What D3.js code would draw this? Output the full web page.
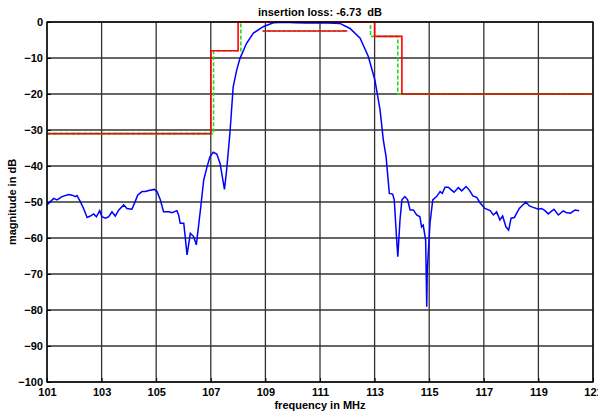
<!DOCTYPE html>
<html>
<head>
<meta charset="utf-8">
<script src="https://cdn.jsdelivr.net/npm/d3@7"></script>
<style>
body { margin: 0; background: #fff; }
text { font-family: "Liberation Sans", Arial, sans-serif; font-weight: bold; }
</style>
</head>
<body>
<div id="caja"></div>
<script>
// frecuencias y magnitudes
var freq = [101,101.12,101.25,101.37,101.55,101.79,101.92,102.04,102.1,102.22,102.34,102.47,102.59,102.71,102.81,102.93,103.01,103.14,103.26,103.38,103.5,103.63,103.81,103.93,104.11,104.23,104.32,104.48,104.6,104.73,104.93,105.03,105.15,105.27,105.46,105.58,105.76,105.82,105.88,106.01,106.13,106.25,106.37,106.47,106.62,106.74,106.85,106.97,107.09,107.22,107.34,107.5,107.58,107.7,107.82,107.95,108.07,108.31,108.56,108.92,109.29,109.7,110.1,110.5,110.9,111.3,111.73,112.1,112.47,112.77,113.01,113.2,113.32,113.42,113.54,113.66,113.72,113.81,113.85,113.93,114,114.11,114.21,114.3,114.42,114.54,114.66,114.72,114.78,114.87,114.91,114.93,115.03,115.13,115.27,115.4,115.48,115.58,115.7,115.82,115.91,116.07,116.19,116.35,116.47,116.6,116.74,116.86,117.04,117.23,117.35,117.47,117.59,117.69,117.81,117.91,118,118.12,118.3,118.54,118.67,118.81,119,119.12,119.24,119.36,119.57,119.73,119.91,120.04,120.18,120.34,120.49];
var mag = [-50.8,-49.9,-49,-49.4,-48.5,-47.9,-48.1,-48.5,-48.2,-49.9,-51.8,-54.3,-53.9,-53.3,-54.1,-52.4,-54.1,-54.5,-54.1,-52.7,-53.9,-52.2,-50.8,-51.8,-52,-49.9,-48.1,-47.1,-47.1,-46.8,-46.5,-47.1,-49.4,-52.7,-52.7,-53,-52.4,-53.6,-55.9,-55.9,-64.7,-58.7,-59.6,-61.9,-52.2,-43.9,-40.6,-37.4,-36.2,-36.7,-39.3,-46.5,-41.1,-30.9,-18,-13.3,-10.1,-5.9,-3.1,-1.3,-0.2,-0.1,-0.2,-0.3,-0.2,-0.3,-0.4,-1.8,-4.5,-9.6,-16.1,-24.4,-32.8,-37.4,-47.6,-47.8,-49.4,-60.6,-65.2,-55,-49.4,-48.5,-49.4,-52.2,-52.2,-53.6,-54.1,-56.9,-56.4,-60.6,-79.1,-68.9,-55.9,-49.4,-48.5,-47.1,-47.6,-45.9,-45.9,-46.7,-47.3,-46,-46.9,-45.7,-46.7,-48.3,-48.7,-50.2,-51.8,-52.4,-53.6,-52.7,-55,-53.9,-56.9,-57.8,-54.5,-54.3,-51.8,-50,-51.1,-51.5,-52,-51.8,-52.4,-53.3,-52,-53.6,-52.5,-53,-53.1,-52.2,-52.4];

// mascara superior (rojo)
var maskF = [101,107,107,108,108,113,113,114,114,121];
var maskM = [-31,-31,-8,-8,0,0,-4,-4,-20,-20];
// mascara verde punteada
var greenF = [101,107.1,107.1,108.1,108.1,109,112,112.85,112.85,113.85,113.85,121];
var greenM = [-31,-31,-8,-8,0,0,0,0,-4,-4,-20,-20];
// linea de perdida de insercion
var ilF = [108.9,112];
var ilM = [-2.5,-2.5];

var xTicks = [101,103,105,107,109,111,113,115,117,119,121];
var yTicks = [0,-10,-20,-30,-40,-50,-60,-70,-80,-90,-100];

var w = 598, h = 412;
var m = {left: 47, right: 5, top: 22, bottom: 30};

var svg = d3.select('#caja').append('svg')
	.attr('width', w)
	.attr('height', h);

var x = d3.scaleLinear().domain([101, 121]).range([m.left, w - m.right]);
var y = d3.scaleLinear().domain([-100, 0]).range([h - m.bottom, m.top]);

// rejilla
svg.append('g').selectAll('line').data(xTicks).enter().append('line')
	.attr('x1', function(d) { return x(d); }).attr('x2', function(d) { return x(d); })
	.attr('y1', y(0)).attr('y2', y(-100))
	.attr('stroke', '#333').attr('stroke-width', 1.3);
svg.append('g').selectAll('line').data(yTicks).enter().append('line')
	.attr('y1', function(d) { return y(d); }).attr('y2', function(d) { return y(d); })
	.attr('x1', x(101)).attr('x2', x(121))
	.attr('stroke', '#333').attr('stroke-width', 1.3);

// ejes
svg.append('g')
	.attr('transform', 'translate(0,' + y(-100) + ')')
	.call(d3.axisBottom(x).tickValues(xTicks).tickSize(-4).tickPadding(6).tickFormat(d3.format('d')))
	.call(function(g) { g.select('.domain').remove(); });
svg.append('g')
	.attr('transform', 'translate(' + x(101) + ',0)')
	.call(d3.axisLeft(y).tickValues(yTicks).tickSize(-4).tickPadding(4).tickFormat(d3.format('d')))
	.call(function(g) { g.select('.domain').remove(); });
svg.selectAll('.tick text').attr('font-size', '11px').attr('fill', '#000');
svg.selectAll('.tick line').attr('stroke', '#000');

var line = d3.line()
	.x(function(d) { return x(d[0]); })
	.y(function(d) { return y(d[1]); });

var zip = function(a, b) { return a.map(function(v, i) { return [v, b[i]]; }); };

svg.append('path').datum(zip(greenF, greenM)).attr('d', line)
	.attr('fill', 'none').attr('stroke', '#22dd22').attr('stroke-width', 1.6)
	.attr('stroke-dasharray', '4,2');
svg.append('path').datum(zip(maskF, maskM)).attr('d', line)
	.attr('fill', 'none').attr('stroke', '#ff0000').attr('stroke-width', 1.6);
svg.append('path').datum(zip(ilF, ilM)).attr('d', line)
	.attr('fill', 'none').attr('stroke', '#ff0000').attr('stroke-width', 1.6);

// tramos horizontales con trazo oscuro encima
[[[101,-31],[107,-31]], [[114,-20],[121,-20]], [[108.9,-2.5],[112,-2.5]]].forEach(function(seg) {
	svg.append('path').datum(seg).attr('d', line)
		.attr('fill', 'none').attr('stroke', '#7a4a10').attr('stroke-width', 1.2)
		.attr('stroke-dasharray', '3,2');
});

svg.append('defs').append('clipPath').attr('id', 'clip').append('rect')
	.attr('x', x(101)).attr('y', y(0)).attr('width', x(121) - x(101)).attr('height', y(-100) - y(0));
svg.append('path').datum(zip(freq, mag)).attr('d', line)
	.attr('clip-path', 'url(#clip)')
	.attr('fill', 'none').attr('stroke', '#0000ff').attr('stroke-width', 1.5);

// marco
svg.append('rect')
	.attr('x', x(101)).attr('y', y(0))
	.attr('width', x(121) - x(101)).attr('height', y(-100) - y(0))
	.attr('fill', 'none').attr('stroke', '#000').attr('stroke-width', 1.3);

// textos
svg.append('text').text('insertion loss: -6.73  dB')
	.attr('x', (x(101) + x(121)) / 2).attr('y', 16)
	.attr('text-anchor', 'middle').attr('font-size', '11px').attr('xml:space', 'preserve');
svg.append('text').text('frequency in MHz')
	.attr('x', (x(101) + x(121)) / 2).attr('y', 409)
	.attr('text-anchor', 'middle').attr('font-size', '11px');
svg.append('text').text('magnitude in dB')
	.attr('transform', 'translate(16,' + (y(0) + y(-100)) / 2 + ') rotate(-90)')
	.attr('text-anchor', 'middle').attr('font-size', '11px');
</script>
</body>
</html>
